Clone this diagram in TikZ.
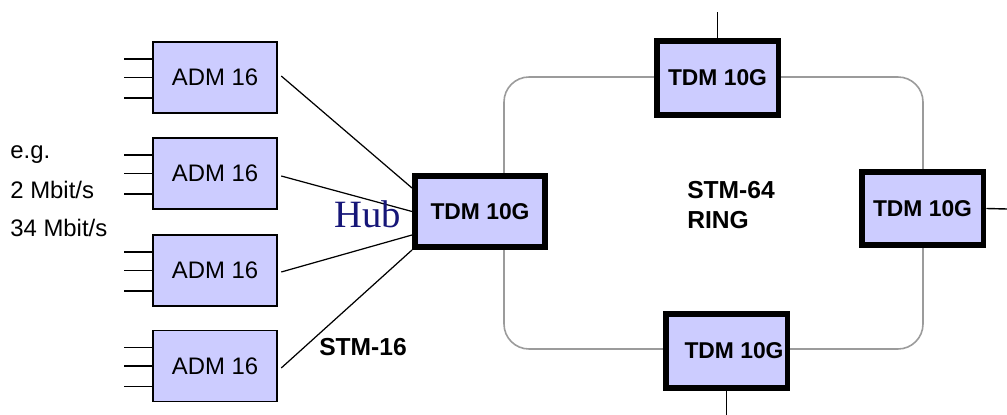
\documentclass[tikz,border=0pt]{standalone}
\usepackage{fontspec}
\setmainfont{Liberation Sans}
\newfontfamily\hubfont{Liberation Serif}
\usepackage{tikz}

\definecolor{boxfill}{RGB}{204,204,255}
\definecolor{hubblue}{RGB}{22,22,120}
\definecolor{ringgray}{RGB}{155,155,155}

\begin{document}
\begin{tikzpicture}[x=0.02cm, y=-0.02cm,
    adm/.style={draw, line width=0.85pt, fill=boxfill, minimum width=2.48cm,
      minimum height=1.42cm, inner sep=0pt, font=\fontsize{13.6}{16}\selectfont},
    tdm/.style={draw, line width=3.4pt, fill=boxfill, minimum width=2.44cm,
      minimum height=1.47cm, inner sep=0pt, font=\bfseries\fontsize{13}{16}\selectfont},
    link/.style={line width=0.7pt},
    stub/.style={line width=0.8pt},
    ring/.style={ringgray, line width=0.9pt, rounded corners=0.5cm},
    rate/.style={anchor=west, inner sep=0pt, font=\fontsize{13.6}{16}\selectfont}]
  \useasboundingbox (0,0) rectangle (1007,415);
  \fill[white] (0,0) rectangle (1007,415);

  \draw[ring] (504,77) rectangle (923,349);

          \node[adm] (A1) at (215, 77.5) {ADM 16};
          \node[adm] (A2) at (215, 173.5) {ADM 16};
          \node[adm] (A3) at (215, 270.5) {ADM 16};
          \node[adm] (A4) at (215, 366) {ADM 16};
          \node[tdm, minimum width=2.6cm, minimum height=1.42cm] (H) at (480, 211.5) {TDM 10G};
          \node[tdm] (T) at (717.5, 78) {TDM 10G};
          \node[tdm] (R) at (922.5, 208.5) {TDM 10G};
          \node[tdm] (B) at (726.5, 351) {\hspace*{0.3cm}TDM 10G};

          \coordinate (Tout) at (717.5, 12);
          \coordinate (Rout) at (1007, 209);
          \coordinate (Bout) at (726.5, 415);

          \foreach \n in {A1, A2, A3, A4}
            \foreach \dy in {-18.5, 0, 20.5}
              \draw[stub] ([yshift=-\dy*0.02cm]\n.west) -- ++(-28, 0);

          \draw[link] ([xshift=2pt, yshift=0.03cm]A1.east) -- ([yshift=0.47cm]H.west);
          \draw[link] ([xshift=2pt, yshift=-0.05cm]A2.east) -- (H.west);
          \draw[link] ([xshift=2pt, yshift=-0.03cm]A3.east) -- ([yshift=-0.47cm]H.west);
          \draw[link] ([xshift=2pt, yshift=-0.04cm]A4.east) -- (H.south west);

          \draw[stub] (T) -- (Tout);
          \draw[stub] (R.east) -- (Rout);
          \draw[stub] (B) -- (Bout);
          % redraw the boxes over the stub ends
          \node[tdm] at (T) {TDM 10G};
          \node[tdm] at (B) {\hspace*{0.3cm}TDM 10G};

          \node[anchor=base, inner sep=0pt, text=hubblue, font=\hubfont\fontsize{22}{24}\selectfont]
            (hubl) at (367.5, 228) {Hub};
          \node[align=left, inner sep=0pt, font=\bfseries\fontsize{14}{17}\selectfont]
            (ringl) at (731, 205) {STM-64\\RING};
          \node[inner sep=0pt, font=\bfseries\fontsize{14}{17}\selectfont]
            (stml) at (363, 347) {STM-16};

          \node[rate] (eg) at (10, 155) {e.g.};
          \node[rate] (r2) at (10, 190) {2 Mbit/s};
          \node[rate] (r34) at (10, 228) {34 Mbit/s};
  \end{tikzpicture}
\end{document}
